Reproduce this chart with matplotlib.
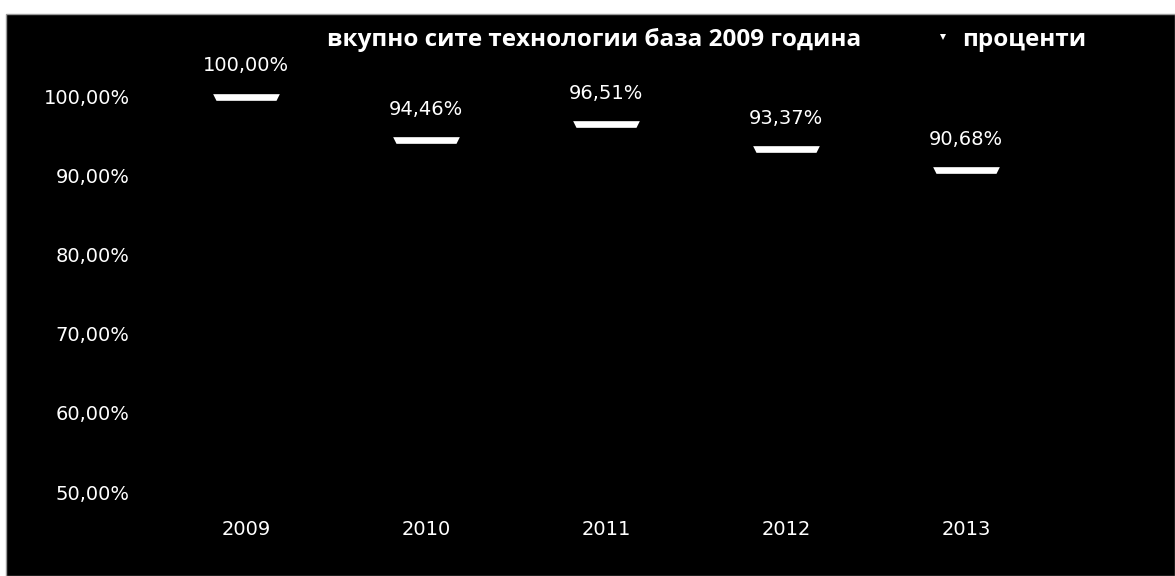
import matplotlib
matplotlib.use("Agg")
import matplotlib.pyplot as plt
from matplotlib.path import Path
from matplotlib.patches import Rectangle
from matplotlib.lines import Line2D
from matplotlib.ticker import FuncFormatter

years = ["2009", "2010", "2011", "2012", "2013"]
percent = [100.00, 94.46, 96.51, 93.37, 90.68]
y_ticks = [50, 60, 70, 80, 90, 100]
title = "вкупно сите технологии база 2009 година"
series_name = "проценти"

W, H = 1175, 576
fig = plt.figure(figsize=(W / 100, H / 100), dpi=100, facecolor="white")

# black chart area with a thin grey frame
fig.patches.append(Rectangle((6 / W, 0), 1 - 6 / W, (H - 14) / H,
                             transform=fig.transFigure, facecolor="black",
                             edgecolor="#9a9a9a", linewidth=1.0, zorder=-5))

left_px, right_px = 156, 1056
bottom_px, top_px = 492, 53
ax = fig.add_axes([left_px / W, (H - bottom_px) / H,
                   (right_px - left_px) / W, (bottom_px - top_px) / H])
ax.set_zorder(2)
ax.set_facecolor("black")
for s in ax.spines.values():
    s.set_visible(False)

# flat dash marker, slightly narrower at the bottom
dash = Path([(-1, 0.1), (1, 0.1), (0.9, -0.1), (-0.9, -0.1), (-1, 0.1)],
            [Path.MOVETO, Path.LINETO, Path.LINETO, Path.LINETO, Path.CLOSEPOLY])

x = list(range(len(years)))
ax.plot(x, percent, linestyle="none", marker=dash, markersize=48,
        color="white", markeredgewidth=0)

for xi, v in zip(x, percent):
    ax.annotate(f"{v:.2f}%".replace(".", ","), (xi, v), xytext=(0, 22),
                textcoords="offset points", ha="center", va="center",
                color="white", fontsize=14, family="DejaVu Sans")

ax.set_xlim(-0.5, len(years) - 0.5)
ax.set_ylim(50, 105.5)
ax.set_xticks(x)
ax.set_xticklabels(years)
ax.set_yticks(y_ticks)
ax.yaxis.set_major_formatter(FuncFormatter(lambda v, p: f"{v:.2f}%".replace(".", ",")))
ax.tick_params(axis="y", length=0, pad=19, labelcolor="white", labelsize=14)
ax.tick_params(axis="x", length=0, pad=20, labelcolor="white", labelsize=14)

fig.text(594 / W, 1 - 40 / H, title, ha="center", va="center", color="white",
         fontsize=17.5, fontweight="bold", family="Open Sans", zorder=3)

handle = Line2D([], [], linestyle="none", marker="v", markersize=5,
                color="white", markeredgewidth=0)
leg = fig.legend([handle], [series_name], loc="center left",
                 bbox_to_anchor=(914 / W, 1 - 40 / H), frameon=False,
                 handlelength=0.6, handletextpad=0.5,
                 prop={"family": "Open Sans", "weight": "bold", "size": 17.5},
                 labelcolor="white")
leg.set_zorder(3)

fig.savefig("out.png", dpi=100, facecolor=fig.get_facecolor())
